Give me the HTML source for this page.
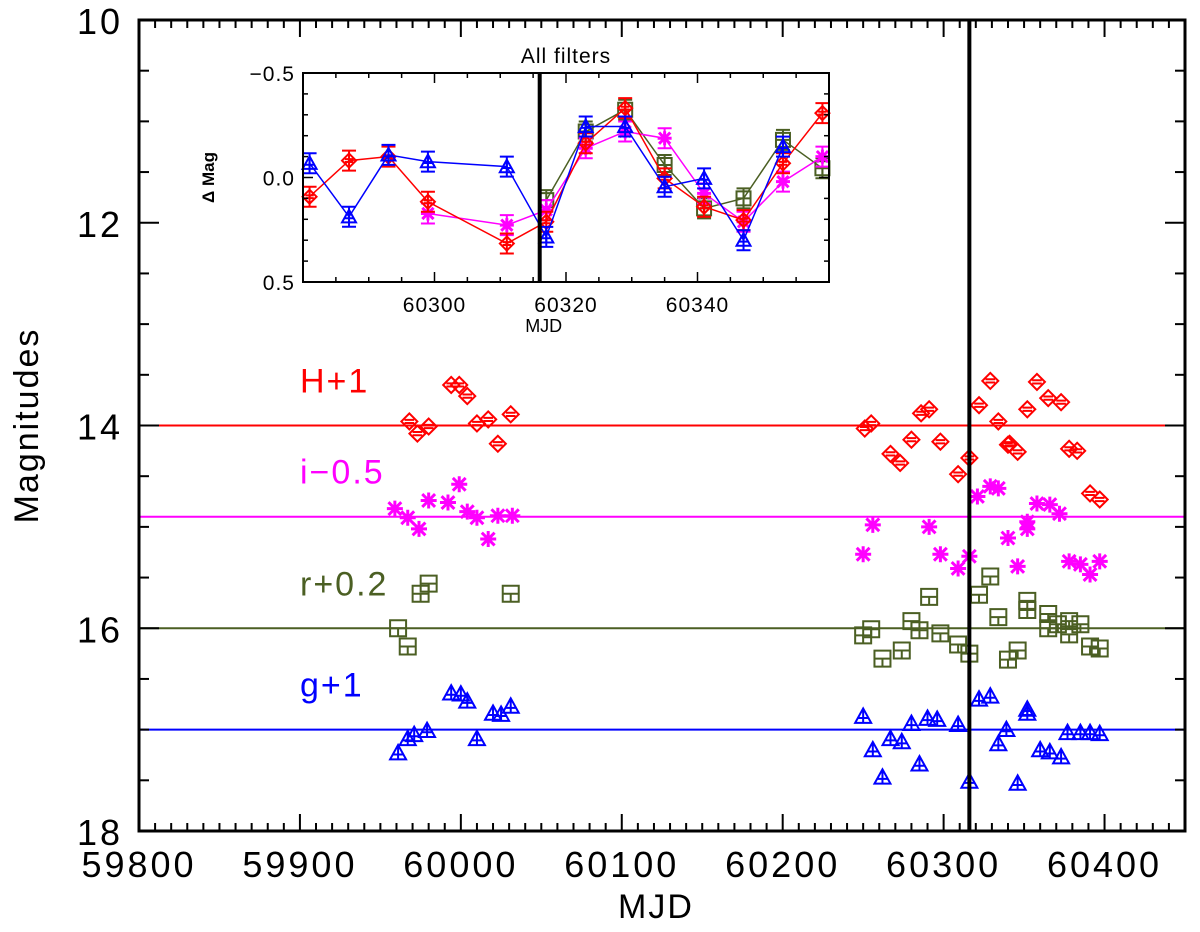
<!DOCTYPE html>
<html><head><meta charset="utf-8"><style>
html,body{margin:0;padding:0;background:#fff;}
svg{display:block;font-family:"Liberation Sans",sans-serif;}
</style></head><body>
<svg id="chart" width="1200" height="932" viewBox="0 0 1200 932">
<g id="layer"></g>
</svg>
<script>
// ===== Main chart data =====
const hMjd = [59994,59999,60004,59968,59973,59980,60010,60017,60023,60031,60251,60255,60286,60291,60280,60298,60267,60273,60316,60309,60329,60322,60334,60341,60358,60365,60373,60352,60340,60346,60378,60383,60391,60397];
const hMag = [13.60,13.60,13.71,13.96,14.08,14.01,13.98,13.94,14.18,13.89,14.03,13.98,13.88,13.84,14.14,14.16,14.28,14.37,14.32,14.48,13.56,13.80,13.96,14.18,13.57,13.73,13.77,13.84,14.19,14.26,14.23,14.25,14.67,14.73];
const iMjd = [59959,59967,59974,59980,59992,59999,60004,60010,60017,60023,60032,60256,60291,60250,60298,60309,60316,60321,60329,60334,60340,60358,60366,60372,60352,60352,60346,60378,60385,60391,60397];
const iMag = [14.82,14.91,15.02,14.74,14.76,14.58,14.85,14.91,15.12,14.89,14.89,14.98,15.00,15.27,15.27,15.41,15.29,14.70,14.60,14.62,15.11,14.77,14.78,14.87,14.95,15.02,15.39,15.34,15.37,15.47,15.34];
const rMjd = [59980,59975,59961,59967,60031,60250,60255,60262,60274,60291,60280,60285,60298,60309,60316,60322,60329,60334,60340,60352,60352,60365,60365,60371,60378,60378,60385,60391,60397,60346];
const rMag = [15.56,15.66,16.00,16.18,15.66,16.07,16.01,16.30,16.22,15.69,15.93,16.02,16.05,16.16,16.25,15.67,15.49,15.89,16.31,15.73,15.82,15.86,16.00,15.96,15.93,16.06,15.96,16.18,16.20,16.22];
const gMjd = [59994,60000,60004,60020,60025,60031,60010,59961,59967,59979,59971,60250,60256,60262,60267,60274,60280,60285,60290,60296,60309,60316,60322,60329,60339,60334,60352,60352,60360,60366,60373,60377,60385,60391,60397,60346];
const gMag = [16.64,16.65,16.72,16.84,16.85,16.77,17.09,17.23,17.09,17.01,17.05,16.87,17.20,17.47,17.09,17.12,16.94,17.34,16.89,16.90,16.95,17.51,16.70,16.67,17.00,17.14,16.84,16.80,17.20,17.22,17.27,17.03,17.03,17.03,17.04,17.53];
const refLevels = [14.0, 14.9, 16.0, 17.0];
const refLabels = ["H+1","i\u22120.5","r+0.2","g+1"];
const markLine = 60316;
const xTicks = [59800,59900,60000,60100,60200,60300,60400];
const yTicks = [10,12,14,16,18];
// ===== Inset data =====
const inGMjd = [60281,60287,60293,60299,60311,60317,60323,60329,60335,60341,60347,60353];
const inGVal = [-0.068,0.188,-0.108,-0.076,-0.052,0.284,-0.244,-0.244,0.044,0.004,0.30,-0.148];
const inHMjd = [60281,60287,60293,60299,60311,60317,60323,60329,60335,60341,60347,60353,60359];
const inHVal = [0.092,-0.081,-0.10,0.116,0.316,0.212,-0.164,-0.332,0.004,0.14,0.204,-0.068,-0.308];
const inIMjd = [60299,60311,60317,60323,60329,60335,60341,60347,60353,60359];
const inIVal = [0.172,0.228,0.156,-0.14,-0.22,-0.188,0.076,0.212,0.02,-0.10];
const inRMjd = [60317,60323,60329,60335,60341,60347,60353,60359];
const inRVal = [0.108,-0.22,-0.324,-0.06,0.148,0.10,-0.18,-0.044];
const inXTicks = [60300,60320,60340];
const inYTicks = [-0.5,0.0,0.5];

const NS="http://www.w3.org/2000/svg";
const layer=document.getElementById('layer');
function mk(tag,attrs,parent){const e=document.createElementNS(NS,tag);for(const k in attrs)e.setAttribute(k,attrs[k]);(parent||layer).appendChild(e);return e;}

// main axes
const X0=139,X1=1185,Y0=20,Y1=831;
const xMin=59800,xMax=60450,yMin=10,yMax=18;
const sx=v=>X0+(v-xMin)/(xMax-xMin)*(X1-X0);
const sy=v=>Y0+(v-yMin)/(yMax-yMin)*(Y1-Y0);
const COL={H:"#ff0000",i:"#ff00ff",r:"#4b5f23",g:"#0000ff"};

const refCols=[COL.H,COL.i,COL.r,COL.g];
refLevels.forEach((lv,k)=>{
  const l=mk('line',{x1:X0,x2:X1,y1:sy(lv),y2:sy(lv),stroke:refCols[k],'stroke-width':2});
  
  
  const t=mk('text',{x:300,y:sy(lv)-33,fill:refCols[k],'font-size':34,'letter-spacing':2});
  t.textContent=refLabels[k];
  
  
});

function marker(type,cx,cy,s,col,parent){
  const g=mk('g',{stroke:col,fill:'none','stroke-width':2},parent);
  if(type==='H'){mk('path',{d:`M${cx-s},${cy}L${cx},${cy-s}L${cx+s},${cy}L${cx},${cy+s}Z M${cx-s*0.6},${cy-s*0.2}H${cx+s*0.6} M${cx-s*0.6},${cy+s*0.2}H${cx+s*0.6}`},g);}
  else if(type==='i'){const a=s*0.8;mk('path',{d:`M${cx-s},${cy}H${cx+s} M${cx},${cy-s}V${cy+s} M${cx-a},${cy-a}L${cx+a},${cy+a} M${cx-a},${cy+a}L${cx+a},${cy-a}`,'stroke-width':3},g);}
  else if(type==='r'){mk('path',{d:`M${cx-s},${cy-s}H${cx+s}V${cy+s}H${cx-s}Z M${cx-s},${cy}H${cx+s} M${cx},${cy}V${cy+s}`},g);}
  else {mk('path',{d:`M${cx-s},${cy+s*0.8}H${cx+s}L${cx},${cy-s}Z M${cx-s*0.6},${cy+s*0.2}H${cx+s*0.6} M${cx},${cy-s}V${cy+s*0.8}`},g);}
  return g;
}
function series(type,mj,mg){
  for(let k=0;k<mj.length;k++){
    const g=marker(type,sx(mj[k]),sy(mg[k]),8,COL[type]);
    
    
  }
}
series('H',hMjd,hMag);series('i',iMjd,iMag);series('r',rMjd,rMag);series('g',gMjd,gMag);

const vl=mk('line',{x1:sx(markLine),x2:sx(markLine),y1:Y0,y2:Y1,stroke:'#000','stroke-width':4});



const fr=mk('rect',{x:X0,y:Y0,width:X1-X0,height:Y1-Y0,fill:'none',stroke:'#000','stroke-width':3});


for(let v=xMin;v<=xMax;v+=10){
  const major=(v%100===0);const len=major?17:8;
  mk('line',{x1:sx(v),x2:sx(v),y1:Y1,y2:Y1-len,stroke:'#000','stroke-width':2});
  mk('line',{x1:sx(v),x2:sx(v),y1:Y0,y2:Y0+len,stroke:'#000','stroke-width':2});
}
xTicks.forEach(v=>{const t=mk('text',{x:sx(v),y:877,'font-size':36,'text-anchor':'middle','letter-spacing':3});t.textContent=v;
  
  });
for(let v=yMin;v<=yMax;v+=0.5){
  const major=(Math.abs(v%2)<1e-6);const len=major?20:10;
  mk('line',{x1:X0,x2:X0+len,y1:sy(v),y2:sy(v),stroke:'#000','stroke-width':2});
  mk('line',{x1:X1,x2:X1-len,y1:sy(v),y2:sy(v),stroke:'#000','stroke-width':2});
}
yTicks.forEach(v=>{const t=mk('text',{x:X0-16,y:sy(v)+14,'font-size':36,'text-anchor':'end','letter-spacing':3});t.textContent=v;
  
  });
const xt=mk('text',{x:(X0+X1)/2-6,y:918,'font-size':34,'text-anchor':'middle','letter-spacing':2});xt.textContent='MJD';


const yt=mk('text',{x:0,y:0,'font-size':34,'text-anchor':'middle','letter-spacing':2,transform:`translate(38,${(Y0+Y1)/2}) rotate(-90)`});yt.textContent='Magnitudes';



// ===== inset =====
const ig=mk('g',{});


const IX0=303,IX1=829,IY0=73,IY1=282;
const ix=v=>IX0+(v-60280)/80*(IX1-IX0);
const iy=v=>IY0+(v+0.5)/1.0*(IY1-IY0);
mk('rect',{x:IX0,y:IY0,width:IX1-IX0,height:IY1-IY0,fill:'#fff',stroke:'none'},ig);
function inSeries(type,mj,vals,name){
  const pts=mj.map((m,k)=>ix(m)+','+iy(vals[k])).join(' ');
  const pl=mk('polyline',{points:pts,fill:'none',stroke:COL[type],'stroke-width':1.5},ig);
  
  
  for(let k=0;k<mj.length;k++){
    const cx=ix(mj[k]),cy=iy(vals[k]);
    mk('path',{d:`M${cx},${cy-10}V${cy+10} M${cx-7},${cy-10}H${cx+7} M${cx-7},${cy+10}H${cx+7}`,stroke:COL[type],'stroke-width':2,fill:'none'},ig);
    const g=marker(type,cx,cy,7,COL[type],ig);
    
    
  }
}
inSeries('r',inRMjd,inRVal,'r');
inSeries('i',inIMjd,inIVal,'i');
inSeries('H',inHMjd,inHVal,'H');
inSeries('g',inGMjd,inGVal,'g');
mk('line',{x1:ix(markLine),x2:ix(markLine),y1:IY0,y2:IY1,stroke:'#000','stroke-width':4},ig);
mk('rect',{x:IX0,y:IY0,width:IX1-IX0,height:IY1-IY0,fill:'none',stroke:'#000','stroke-width':2},ig);
for(let v=60280;v<=60360;v+=5){const len=(v%20===0)?10:5;
  mk('line',{x1:ix(v),x2:ix(v),y1:IY1,y2:IY1-len,stroke:'#000','stroke-width':1.5},ig);
  mk('line',{x1:ix(v),x2:ix(v),y1:IY0,y2:IY0+len,stroke:'#000','stroke-width':1.5},ig);}
for(let k=0;k<=10;k++){const v=-0.5+k*0.1;const len=(k%5===0)?10:5;
  mk('line',{x1:IX0,x2:IX0+len,y1:iy(v),y2:iy(v),stroke:'#000','stroke-width':1.5},ig);
  mk('line',{x1:IX1,x2:IX1-len,y1:iy(v),y2:iy(v),stroke:'#000','stroke-width':1.5},ig);}
inXTicks.forEach(v=>{const t=mk('text',{x:ix(v),y:IY1+30,'font-size':21,'text-anchor':'middle','letter-spacing':1},ig);t.textContent=v;
  
  });
inYTicks.forEach(v=>{const t=mk('text',{x:IX0-8,y:iy(v)+8,'font-size':21,'text-anchor':'end','letter-spacing':1},ig);t.textContent=(v<0?'\u2212':'')+Math.abs(v).toFixed(1);
  
  });
const it=mk('text',{x:(IX0+IX1)/2,y:IY0-10,'font-size':21,'text-anchor':'middle','letter-spacing':1},ig);it.textContent='All  filters';


const ixt=mk('text',{x:ix(60316)+4,y:IY1+50,'font-size':18,'text-anchor':'middle'},ig);ixt.textContent='MJD';


const iyt=mk('text',{x:0,y:0,'font-size':17,'text-anchor':'middle','font-weight':'bold',transform:`translate(214,${iy(0)}) rotate(-90)`},ig);iyt.textContent='\u0394 Mag';


</script>
</body></html>
